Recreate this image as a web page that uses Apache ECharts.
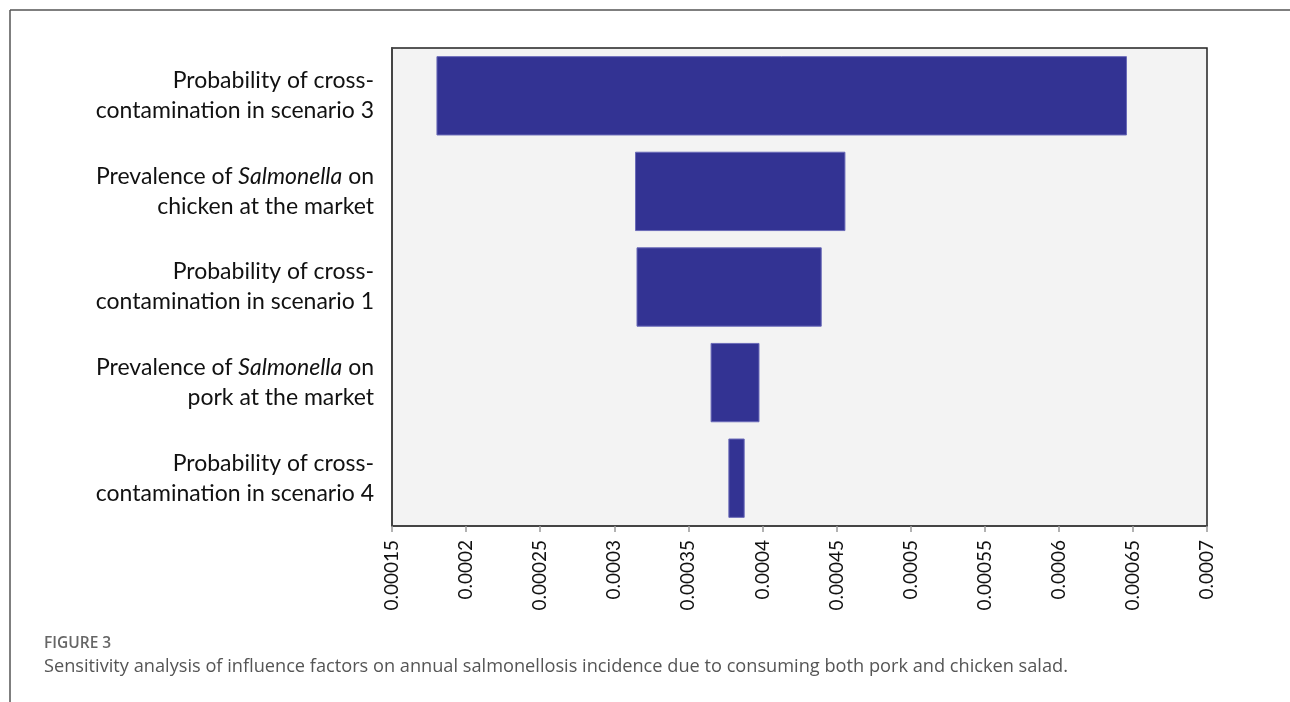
<!DOCTYPE html>
<html>
<head>
<meta charset="utf-8">
<script src="https://cdn.jsdelivr.net/npm/echarts@6/dist/echarts.min.js"></script>
<style>
html,body{margin:0;padding:0;background:#fff;}
#chart{width:1290px;height:702px;}
</style>
</head>
<body>
<div id="chart"></div>
<script>
// Factor labels (top to bottom); italic parts marked with *...*
const categories = [
  'Probability of cross-\ncontamination in scenario 3',
  'Prevalence of *Salmonella* on\nchicken at the market',
  'Probability of cross-\ncontamination in scenario 1',
  'Prevalence of *Salmonella* on\npork at the market',
  'Probability of cross-\ncontamination in scenario 4'
];
// Low and high ends of each bar (annual incidence)
const lowValues  = [0.000180, 0.000314, 0.000315, 0.000365, 0.000377];
const highValues = [0.000646, 0.000456, 0.000440, 0.000398, 0.000388];
// Axis ticks
const axisMin = 0.00015, axisMax = 0.0007, axisStep = 0.00005;

const spans = highValues.map((h, i) => h - lowValues[i]);

function richLabel(s) {
  return s.split('\n').map(line =>
    line.split('*').map((part, k) => part ? (k % 2 ? '{i|' + part + '}' : '{n|' + part + '}') : '').join('')
  ).join('\n');
}

const chart = echarts.init(document.getElementById('chart'));
const FONT = 'Lato';
chart.setOption({
  animation: false,
  backgroundColor: '#fff',
  grid: {
    left: 392, right: 83, top: 48, bottom: 176,
    show: true, backgroundColor: '#f3f3f3', borderColor: '#222', borderWidth: 1.5
  },
  xAxis: {
    type: 'value', min: axisMin, max: axisMax, interval: axisStep,
    axisLine: { show: true, lineStyle: { color: '#444', width: 2 } },
    axisTick: { show: true, length: 6, lineStyle: { color: '#999', width: 1.5 } },
    splitLine: { show: false },
    axisLabel: {
      rotate: 90, margin: 14, color: '#111', fontFamily: FONT, fontSize: 19,
      formatter: v => String(+v.toPrecision(6))
    }
  },
  yAxis: {
    type: 'category', data: categories, inverse: true,
    axisLine: { show: true, lineStyle: { color: '#444', width: 2 } },
    axisTick: { show: false },
    axisLabel: {
      margin: 18, align: 'right',
      formatter: v => richLabel(v),
      rich: {
        n: { fontFamily: FONT, fontSize: 23, color: '#111', lineHeight: 30, align: 'right' },
        i: { fontFamily: FONT, fontSize: 23, color: '#111', lineHeight: 30, fontStyle: 'italic', align: 'right' }
      }
    }
  },
  series: [
    {
      type: 'bar', stack: 'range', data: lowValues, barWidth: '83%',
      itemStyle: { color: 'transparent' }, silent: true
    },
    {
      type: 'bar', stack: 'range', data: spans, barWidth: '83%',
      itemStyle: { color: '#333393', borderColor: '#6a6ab8', borderWidth: 1 }
    }
  ],
  graphic: [
    { type: 'line', shape: { x1: 10, y1: 10, x2: 1290, y2: 10 }, style: { stroke: '#555', lineWidth: 1.5 } },
    { type: 'line', shape: { x1: 10, y1: 10, x2: 10, y2: 702 }, style: { stroke: '#555', lineWidth: 1.5 } },
    { type: 'text', left: 44, top: 636, style: { text: 'FIGURE 3', font: '600 15.5px "Open Sans"', fill: '#666' } },
    { type: 'text', left: 44, top: 658, style: { text: 'Sensitivity analysis of influence factors on annual salmonellosis incidence due to consuming both pork and chicken salad.', font: '18.2px "Open Sans"', fill: '#555' } }
  ]
});
</script>
</body>
</html>
